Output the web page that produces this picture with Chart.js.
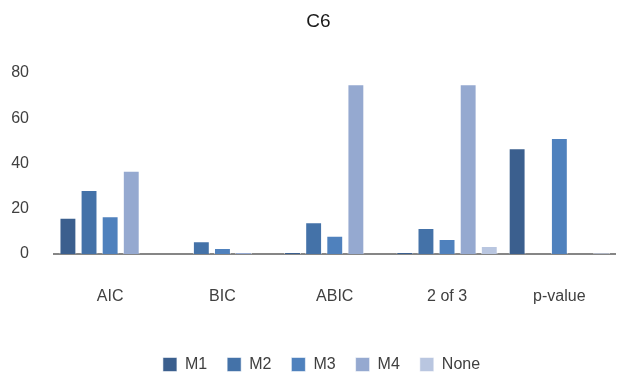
<!DOCTYPE html>
<html>
<head>
<meta charset="utf-8">
<script src="https://cdn.jsdelivr.net/npm/chart.js@4/dist/chart.umd.min.js"></script>
<style>
  html, body { margin: 0; padding: 0; background: #ffffff; }
  #wrap { width: 619px; height: 373px; }
</style>
</head>
<body>
<div id="wrap"><canvas id="c" width="619" height="373"></canvas></div>
<script>
// Criteria along the x axis
const categories = ["AIC", "BIC", "ABIC", "2 of 3", "p-value"];

// Percentage of runs choosing each model, per criterion
const m1 = [16.0, 0, 0.9, 0.9, 46.7];
const m2 = [28.3, 5.6, 14.0, 11.5, 0];
const m3 = [16.7, 2.7, 8.1, 6.6, 51.3];
const m4 = [36.8, 0.9, 75.0, 75.0, 0];
const none = [0, 0, 0, 3.5, 0.4];

const yTicks = [0, 20, 40, 60, 80];

const seriesNames = ["M1", "M2", "M3", "M4", "None"];
const seriesValues = [m1, m2, m3, m4, none];
const seriesColors = ["#3b5f8e", "#4472a8", "#4f81bd", "#95a9d0", "#b9c6e0"];

const FONT = "'Liberation Sans', Arial, sans-serif";
const TEXT = "#404040";

const datasets = seriesNames.map((name, i) => ({
  label: name,
  data: seriesValues[i],
  backgroundColor: seriesColors[i],
  borderColor: "rgba(255,255,255,0.55)",
  borderWidth: 1,
  categoryPercentage: 0.94,
  barPercentage: 0.8
}));

// Nudge the title and legend boxes so they sit centred over the plot area
const centreOnPlot = {
  id: "centreOnPlot",
  afterLayout(chart) {
    const t = chart.titleBlock, l = chart.legend;
    if (t) { t.left += 5; t.right += 5; }
    if (l) { l.left += 8; l.right += 8; }
  }
};

new Chart(document.getElementById("c"), {
  type: "bar",
  data: { labels: categories, datasets },
  plugins: [centreOnPlot],
  options: {
    responsive: false,
    animation: false,
    layout: { padding: { left: 8, right: 0, top: 0, bottom: -9.5 } },
    plugins: {
      title: {
        display: true,
        text: "C6",
        color: "#1a1a1a",
        font: { family: FONT, size: 19, weight: "normal" },
        padding: { top: 10.6, bottom: 39.6 }
      },
      legend: {
        position: "bottom",
        labels: {
          color: TEXT,
          font: { family: FONT, size: 16 },
          boxWidth: 14,
          boxHeight: 14,
          padding: 20
        }
      },
      tooltip: { enabled: false }
    },
    scales: {
      x: {
        grid: { display: false, drawTicks: false },
        border: { display: true, color: "#868686", width: 2 },
        ticks: {
          color: TEXT,
          font: { family: FONT, size: 16 },
          padding: 33.4
        },
        afterFit: (scale) => { scale.height = 82.5; }
      },
      y: {
        min: 0,
        max: 80,
        afterBuildTicks: (axis) => { axis.ticks = yTicks.map(v => ({ value: v })); },
        grid: { display: false, drawTicks: false },
        border: { display: false },
        ticks: {
          color: TEXT,
          font: { family: FONT, size: 16 },
          padding: 25
        },
        afterFit: (scale) => { scale.width = 46; }
      }
    }
  }
});
</script>
</body>
</html>
